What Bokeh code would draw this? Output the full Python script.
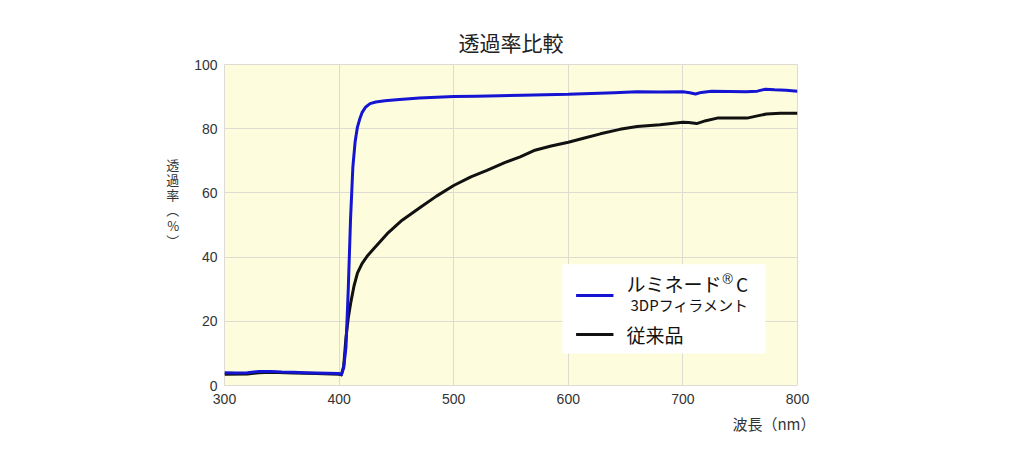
from bokeh.plotting import figure
from bokeh.models import Label, Range1d, FixedTicker, Title
from bokeh.embed import file_html
from bokeh.resources import INLINE

# ---- data ----
title_text = "透過率比較"
x_label = "波長（nm）"
y_label_chars = ["透", "過", "率", "︵", "%", "︶"]
series_names = ["ルミネード®C", "3DPフィラメント", "従来品"]
x_ticks = [300, 400, 500, 600, 700, 800]
y_ticks = [0, 20, 40, 60, 80, 100]

blue_wl = [300, 310, 320, 330, 340, 350, 360, 370, 380, 390, 400, 402, 404, 406, 408,
           410, 412, 414, 416, 418, 420, 423, 427, 432, 440, 450, 470, 500, 520, 540,
           560, 580, 600, 620, 640, 660, 680, 700, 706, 711, 716, 725, 740, 755, 765,
           772, 780, 790, 800]
blue_val = [4.0, 3.9, 4.0, 4.4, 4.4, 4.2, 4.1, 4.0, 3.9, 3.8, 3.7, 3.4, 5.5, 12.0, 30.0,
            52.0, 68.0, 76.0, 80.5, 83.0, 85.0, 86.7, 87.8, 88.3, 88.7, 89.0, 89.6, 90.0, 90.1, 90.3,
            90.4, 90.6, 90.7, 91.0, 91.2, 91.5, 91.4, 91.5, 91.2, 90.8, 91.3, 91.7, 91.6, 91.5, 91.7,
            92.3, 92.1, 92.0, 91.7]

black_wl = [300, 320, 330, 340, 360, 380, 400, 402, 404, 406, 408, 410, 413, 416, 420,
            425, 430, 442, 455, 471, 485, 500, 515, 529, 545, 558, 570, 585, 600, 615,
            628, 645, 660, 680, 700, 705, 712, 720, 730, 745, 756, 765, 773, 785, 800]
black_val = [3.5, 3.6, 4.0, 4.1, 3.9, 3.7, 3.5, 3.3, 6.0, 15.0, 21.0, 25.5, 31.0, 35.0, 38.0,
             40.5, 42.5, 47.3, 51.5, 55.5, 59.0, 62.3, 65.0, 67.0, 69.5, 71.2, 73.2, 74.6, 75.8, 77.2,
             78.4, 79.8, 80.7, 81.2, 82.0, 81.9, 81.6, 82.5, 83.3, 83.3, 83.3, 84.0, 84.6, 84.8, 84.8]

CJK = "Noto Sans CJK JP"
NUM = "Liberation Sans"
BLUE = "#1414d2"
BLACK = "#111111"

p = figure(width=1024, height=469, output_backend="svg", toolbar_location=None,
           x_range=Range1d(300, 800), y_range=Range1d(0, 100),
           min_border_left=224, min_border_right=227, min_border_top=64, min_border_bottom=84,
           background_fill_color="#fdfddd", border_fill_color="white")
p.outline_line_color = "#dcdcd4"

# title
p.title.text = title_text
p.title.align = "center"
p.title.text_font = CJK
p.title.text_font_size = "21px"
p.title.text_font_style = "normal"
p.title.text_color = "#222222"
p.title.standoff = 16

for ax in (p.xaxis[0], p.yaxis[0]):
    ax.axis_line_color = None
    ax.major_tick_line_color = None
    ax.minor_tick_line_color = None
    ax.major_tick_out = 0
    ax.major_tick_in = 0
    ax.minor_tick_out = 0
    ax.major_label_text_font = NUM
    ax.major_label_text_font_size = "14px"
    ax.major_label_text_color = "#333333"
p.yaxis.major_label_standoff = 7
p.xaxis.major_label_standoff = 8
p.xaxis.ticker = FixedTicker(ticks=x_ticks)
p.yaxis.ticker = FixedTicker(ticks=y_ticks)
p.xgrid.ticker = FixedTicker(ticks=x_ticks)
p.ygrid.ticker = FixedTicker(ticks=y_ticks)
p.xgrid.grid_line_color = "#dcdcd0"
p.ygrid.grid_line_color = "#dcdcd0"

# y axis label: upright vertical characters (padding lines shift it upward)
p.yaxis.axis_label = "\n".join(y_label_chars + ["", "", ""])
p.yaxis.axis_label_orientation = "horizontal"
p.yaxis.axis_label_text_font = CJK
p.yaxis.axis_label_text_font_size = "13px"
p.yaxis.axis_label_text_font_style = "normal"
p.yaxis.axis_label_text_color = "#333333"
p.yaxis.axis_label_text_line_height = 0.8
p.yaxis.axis_label_standoff = 12

# x axis label, right aligned below the axis
p.add_layout(Title(text=x_label, align="right", offset=-18, text_font=CJK,
                   text_font_size="15px", text_font_style="normal",
                   text_color="#333333", standoff=8), "below")

p.line(black_wl, black_val, line_color=BLACK, line_width=3, line_join="round")
p.line(blue_wl, blue_val, line_color=BLUE, line_width=3, line_join="round")

# legend box (manual)
name_main, name_sup = series_names[0].split("®")
p.quad(left=[594.9], right=[772.0], bottom=[10.0], top=[37.8], fill_color="white", line_color=None)
p.line([606.8, 639.4], [28.0, 28.0], line_color=BLUE, line_width=3)
p.line([606.8, 639.4], [15.9, 15.9], line_color=BLACK, line_width=3)
p.add_layout(Label(x=650.8, y=31.8, text=name_main, text_font=CJK, text_font_size="19px",
                   text_color="#111111", text_baseline="middle", text_align="left"))
p.add_layout(Label(x=734.6, y=33.2, text="®", text_font=NUM, text_font_size="14px",
                   text_color="#111111", text_baseline="middle", text_align="left"))
p.add_layout(Label(x=746.3, y=31.8, text=name_sup, text_font=CJK, text_font_size="19px",
                   text_color="#111111", text_baseline="middle", text_align="left"))
p.add_layout(Label(x=654.3, y=25.2, text=series_names[1], text_font=CJK, text_font_size="15px",
                   text_color="#111111", text_baseline="middle", text_align="left"))
p.add_layout(Label(x=650.8, y=15.9, text=series_names[2], text_font=CJK, text_font_size="19px",
                   text_color="#111111", text_baseline="middle", text_align="left"))

open("out.html", "w").write(file_html(p, INLINE))
